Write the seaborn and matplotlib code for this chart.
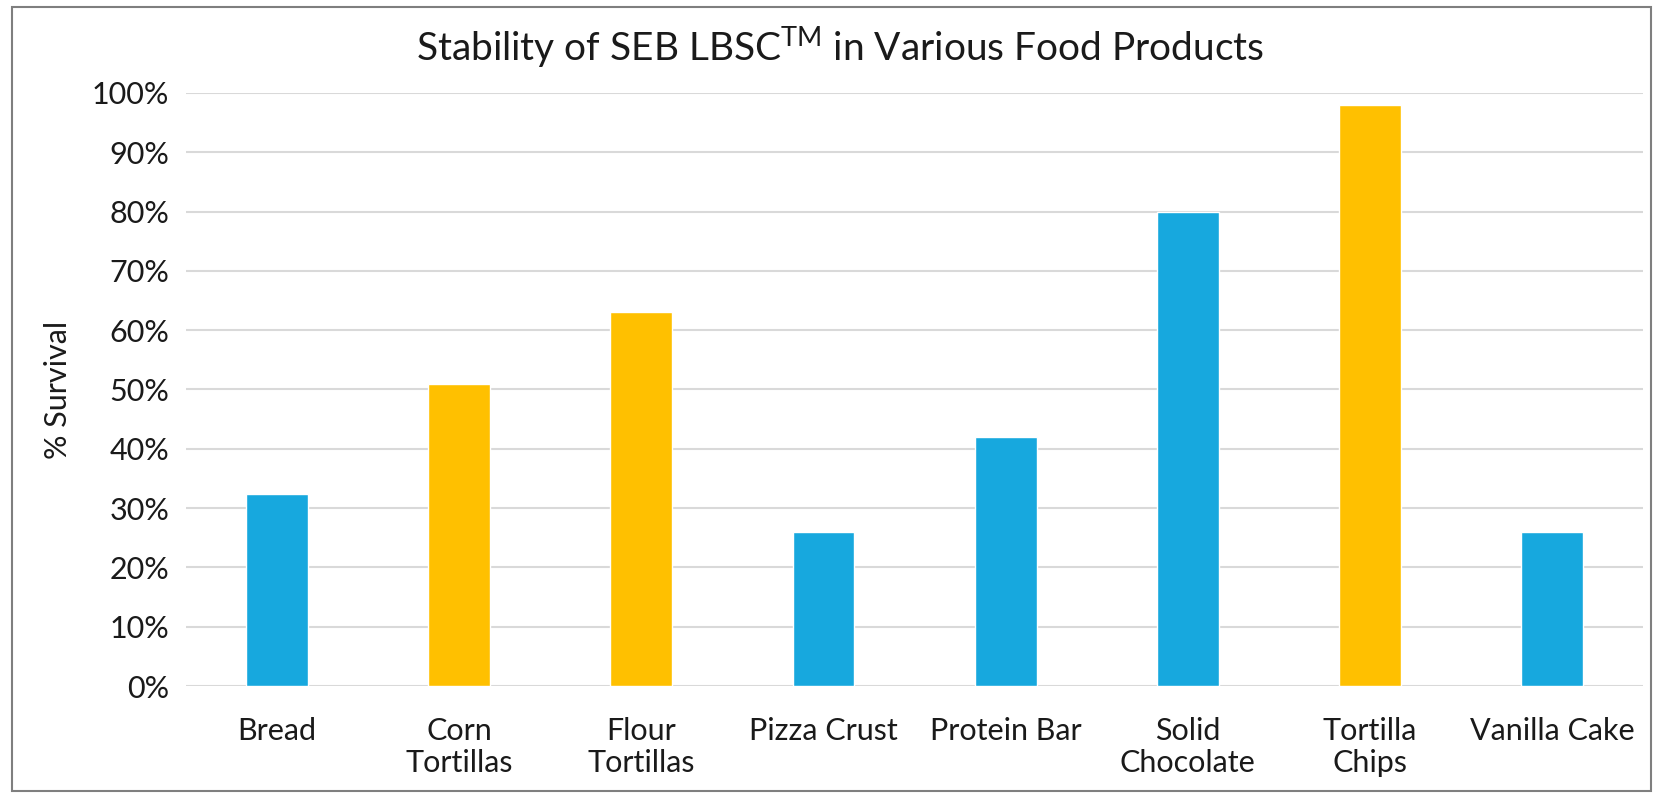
import matplotlib
matplotlib.use("Agg")
import matplotlib.pyplot as plt
import matplotlib.patches as patches
from matplotlib.ticker import PercentFormatter
import seaborn as sns
import pandas as pd

products = ["Bread", "Corn\nTortillas", "Flour\nTortillas", "Pizza Crust",
            "Protein Bar", "Solid\nChocolate", "Tortilla\nChips", "Vanilla Cake"]
survival = [0.324, 0.51, 0.63, 0.259, 0.42, 0.80, 0.98, 0.259]
group = ["blue", "gold", "gold", "blue", "blue", "blue", "gold", "blue"]

palette = {"blue": "#17A8DE", "gold": "#FFC000"}

df = pd.DataFrame({"Product": products, "Survival": survival, "Group": group})

sns.set_style("white")
plt.rcParams["font.family"] = ["Lato", "DejaVu Sans"]
plt.rcParams["mathtext.default"] = "regular"

fig = plt.figure(figsize=(16.56, 7.94), dpi=100)
ax = fig.add_axes([0.1123, 0.136, 0.880, 0.747])

sns.barplot(data=df, x="Product", y="Survival", hue="Group", palette=palette,
            dodge=False, width=0.34, legend=False, ax=ax, saturation=1)

ax.set_ylim(0, 1.0)
ax.set_yticks([i / 10 for i in range(11)])
ax.yaxis.set_major_formatter(PercentFormatter(1.0, decimals=0))
ax.grid(axis="y", color="#d9d9d9", linewidth=1.5)
ax.set_axisbelow(True)
for s in ax.spines.values():
    s.set_visible(False)
ax.tick_params(axis="both", length=0, labelsize=22, colors="#1a1a1a", pad=12)
ax.tick_params(axis="x", pad=22)
ax.set_xlabel("")
ax.set_ylabel("% Survival", fontsize=22, color="#1a1a1a", labelpad=14)

# title is centred on the whole chart, not the plot area
fig.text(0.507, 0.94, "Stability of SEB LBSC$^{TM}$ in Various Food Products",
         fontsize=28, color="#1a1a1a", ha="center", va="center")

fig.patches.append(patches.Rectangle((0.007, 0.004), 0.99, 0.987,
                                     transform=fig.transFigure, fill=False,
                                     edgecolor="#7f7f7f", linewidth=1.5))

fig.savefig("out.png", dpi=100)
